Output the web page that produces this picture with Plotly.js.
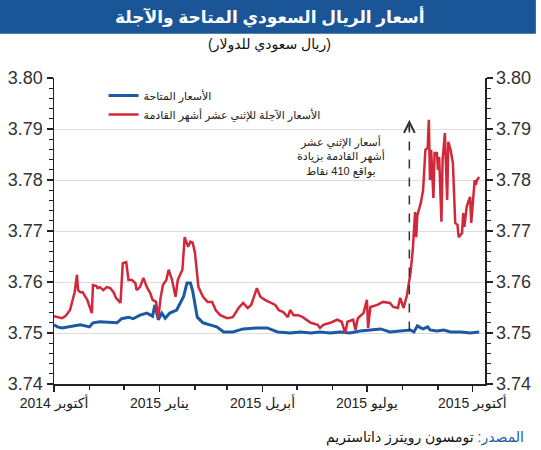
<!DOCTYPE html>
<html>
<head>
<meta charset="utf-8">
<script src="https://cdn.plot.ly/plotly-3.0.1.min.js"></script>
<style>html,body{margin:0;padding:0;background:#fff;}#chart{width:541px;height:450px;}</style>
</head>
<body>
<div id="chart"></div>
<script>
// 12-month forward rate (SAR per USD)
const forwardDates = [
"2014-10-01","2014-10-04","2014-10-08","2014-10-11","2014-10-15","2014-10-18","2014-10-19","2014-10-21","2014-10-22","2014-10-24",
"2014-10-26","2014-10-30","2014-11-01","2014-11-03","2014-11-04","2014-11-07","2014-11-08","2014-11-10","2014-11-13","2014-11-16",
"2014-11-19","2014-11-22","2014-11-24","2014-11-28","2014-11-30","2014-12-03","2014-12-05","2014-12-08","2014-12-11","2014-12-12",
"2014-12-15","2014-12-18","2014-12-21","2014-12-24","2014-12-26","2014-12-29","2014-12-31","2015-01-02","2015-01-04","2015-01-07",
"2015-01-09","2015-01-12","2015-01-15","2015-01-17","2015-01-21","2015-01-23","2015-01-26","2015-01-28","2015-01-30","2015-02-01",
"2015-02-04","2015-02-08","2015-02-12","2015-02-16","2015-02-19","2015-02-23","2015-03-01","2015-03-06","2015-03-11","2015-03-15",
"2015-03-19","2015-03-22","2015-03-27","2015-03-30","2015-04-03","2015-04-08","2015-04-12","2015-04-15","2015-04-19","2015-04-23",
"2015-04-25","2015-04-28","2015-05-02","2015-05-06","2015-05-13","2015-05-19","2015-05-21","2015-05-24","2015-05-30","2015-06-05",
"2015-06-09","2015-06-12","2015-06-14","2015-06-19","2015-06-21","2015-06-23","2015-06-28","2015-07-01","2015-07-02","2015-07-04",
"2015-07-10","2015-07-15","2015-07-21","2015-07-24","2015-07-28","2015-07-30","2015-08-02","2015-08-05","2015-08-08","2015-08-10",
"2015-08-12","2015-08-13","2015-08-14","2015-08-17","2015-08-18","2015-08-19","2015-08-21","2015-08-23","2015-08-24","2015-08-25",
"2015-08-26","2015-08-28","2015-08-29","2015-08-31","2015-09-01","2015-09-02","2015-09-04","2015-09-05","2015-09-07","2015-09-09",
"2015-09-10","2015-09-12","2015-09-14","2015-09-16","2015-09-18","2015-09-19","2015-09-22","2015-09-23","2015-09-24","2015-09-26",
"2015-09-28","2015-09-29","2015-09-30","2015-10-02","2015-10-03","2015-10-04","2015-10-05","2015-10-07"
];
const forwardValues = [
3.7533,3.7531,3.7529,3.7533,3.7545,3.7571,3.7580,3.7614,3.7584,3.7580,
3.7580,3.7565,3.7551,3.7539,3.7594,3.7592,3.7588,3.7590,3.7584,3.7590,
3.7588,3.7580,3.7569,3.7559,3.7637,3.7639,3.7604,3.7604,3.7598,3.7584,
3.7590,3.7608,3.7590,3.7578,3.7565,3.7561,3.7529,3.7569,3.7594,3.7604,
3.7624,3.7604,3.7571,3.7604,3.7624,3.7688,3.7669,3.7679,3.7677,3.7657,
3.7590,3.7571,3.7561,3.7561,3.7545,3.7535,3.7529,3.7531,3.7549,3.7559,
3.7549,3.7555,3.7588,3.7571,3.7565,3.7559,3.7555,3.7545,3.7541,3.7531,
3.7545,3.7535,3.7535,3.7531,3.7520,3.7516,3.7510,3.7516,3.7520,3.7526,
3.7522,3.7500,3.7522,3.7526,3.7506,3.7529,3.7539,3.7565,3.7510,3.7551,
3.7555,3.7561,3.7559,3.7551,3.7549,3.7569,3.7549,3.7575,3.7618,3.7663,
3.7737,3.7688,3.7731,3.7755,3.7771,3.7780,3.7859,3.7863,3.7918,3.7800,
3.7859,3.7765,3.7853,3.7853,3.7820,3.7845,3.7718,3.7839,3.7892,3.7761,
3.7875,3.7859,3.7833,3.7716,3.7712,3.7688,3.7696,3.7735,3.7708,3.7747,
3.7761,3.7767,3.7716,3.7767,3.7800,3.7790,3.7800,3.7806
];
// Spot rate (SAR per USD)
const spotDates = [
"2014-10-01","2014-10-04","2014-10-08","2014-10-15","2014-10-24","2014-11-01","2014-11-04","2014-11-10","2014-11-19","2014-11-25",
"2014-11-29","2014-12-05","2014-12-09","2014-12-15","2014-12-21","2014-12-26","2014-12-28","2014-12-31","2015-01-03","2015-01-06",
"2015-01-10","2015-01-16","2015-01-22","2015-01-25","2015-01-28","2015-01-30","2015-02-03","2015-02-08","2015-02-14","2015-02-20",
"2015-02-26","2015-03-06","2015-03-15","2015-03-27","2015-04-05","2015-04-14","2015-04-25","2015-05-04","2015-05-13","2015-05-21",
"2015-05-30","2015-06-08","2015-06-16","2015-06-25","2015-07-04","2015-07-13","2015-07-21","2015-07-30","2015-08-08","2015-08-11",
"2015-08-14","2015-08-17","2015-08-19","2015-08-23","2015-08-25","2015-08-31","2015-09-06","2015-09-12","2015-09-21","2015-09-29",
"2015-10-07"
];
const spotValues = [
3.7516,3.7512,3.7510,3.7512,3.7516,3.7512,3.7520,3.7522,3.7520,3.7520,
3.7528,3.7531,3.7528,3.7535,3.7539,3.7533,3.7555,3.7526,3.7539,3.7529,
3.7539,3.7545,3.7571,3.7598,3.7598,3.7582,3.7531,3.7520,3.7516,3.7512,
3.7502,3.7502,3.7508,3.7510,3.7510,3.7502,3.7500,3.7502,3.7500,3.7502,
3.7500,3.7502,3.7500,3.7504,3.7506,3.7508,3.7502,3.7504,3.7506,3.7502,
3.7514,3.7510,3.7508,3.7512,3.7506,3.7504,3.7506,3.7502,3.7502,3.7500,
3.7502
];
const tickDates = ["2014-10-01","2015-01-01","2015-04-01","2015-07-01","2015-10-01"];
const tickLabels = ["2014 أكتوبر","2015 يناير","2015 أبريل","2015 يوليو","2015 أكتوبر"];
const seriesNames = ["الأسعار المتاحة","الأسعار الآجلة للإثني عشر أشهر القادمة"];
const titleText = "أسعار الريال السعودي المتاحة والآجلة";
const subtitleText = "(ريال سعودي للدولار)";
const noteText = "أسعار الإثني عشر<br>أشهر القادمة بزيادة<br>بواقع 410 نقاط";
const markerDate = "2015-08-07";

const FONT = "Liberation Sans, Arial, DejaVu Sans, sans-serif";
const RED = "#d2283a";

const traces = [
  {x: spotDates, y: spotValues, name: seriesNames[0], type: "scatter", mode: "lines",
   line: {color: "#1b5aa0", width: 3}, yaxis: "y"},
  {x: forwardDates, y: forwardValues, name: seriesNames[1], type: "scatter", mode: "lines",
   line: {color: RED, width: 2.5}, yaxis: "y"},
  {x: [tickDates[0]], y: [3.75], type: "scatter", mode: "none", showlegend: false, hoverinfo: "skip", yaxis: "y2"}
];

const yBase = {
  range: [3.74, 3.80], dtick: 0.01, tick0: 3.74, tickformat: ".2f",
  ticks: "outside", ticklen: 6, tickwidth: 1.5, tickcolor: "#222",
  showline: true, linecolor: "#222", linewidth: 1.5,
  tickfont: {family: FONT, size: 18, color: "#333"},
  minor: {dtick: 0.002, ticks: "outside", ticklen: 4, tickcolor: "#222", tickwidth: 1.2, showgrid: false},
  zeroline: false, fixedrange: true
};

const layout = {
  width: 541, height: 450,
  margin: {l: 54, r: 56, t: 78, b: 66},
  paper_bgcolor: "#fff", plot_bgcolor: "#fff",
  font: {family: FONT, color: "#222"},
  showlegend: true,
  legend: {x: 0.115, y: 0.99, xanchor: "left", yanchor: "top", bgcolor: "rgba(0,0,0,0)",
           font: {family: FONT, size: 11, color: "#222"}, tracegroupgap: 2, itemwidth: 30},
  xaxis: {
    type: "date", range: ["2014-10-01", "2015-10-12"],
    tickmode: "array", tickvals: tickDates, ticktext: tickLabels,
    ticks: "outside", ticklen: 6, tickwidth: 1.5, tickcolor: "#222",
    showline: true, linecolor: "#222", linewidth: 1.5, showgrid: false,
    tickfont: {family: FONT, size: 14, color: "#222"},
    minor: {dtick: "M1", tick0: "2014-10-01", ticks: "outside", ticklen: 4, tickcolor: "#222", tickwidth: 1.2, showgrid: false},
    fixedrange: true
  },
  yaxis: Object.assign({}, yBase, {side: "left", showgrid: true, gridcolor: "#dcdcdc", gridwidth: 1}),
  yaxis2: Object.assign({}, yBase, {side: "right", overlaying: "y", showgrid: false}),
  shapes: [
    {type: "rect", xref: "paper", yref: "paper", x0: -0.13, x1: 1.118, y0: 1.145, y1: 1.26,
     fillcolor: "#1a5597", line: {width: 0}, layer: "below"},
    {type: "line", xref: "x", yref: "y", x0: markerDate, x1: markerDate, y0: 3.7505, y1: 3.7912,
     line: {color: "#333", width: 1.5, dash: "dash"}}
  ],
  annotations: [
    {xref: "paper", yref: "paper", x: 0.5, y: 1.2, xanchor: "center", yanchor: "middle",
     text: "<b>" + titleText + "</b>", showarrow: false, font: {family: FONT, size: 17, color: "#fff"}},
    {xref: "paper", yref: "paper", x: 0.5, y: 1.108, xanchor: "center", yanchor: "middle",
     text: subtitleText, showarrow: false, font: {family: FONT, size: 14, color: "#111"}},
    {xref: "paper", yref: "paper", x: 0.666, y: 0.745, xanchor: "center", yanchor: "middle",
     text: noteText, showarrow: false, align: "center", font: {family: FONT, size: 11, color: "#222"}},
    {xref: "x", yref: "y", x: markerDate, y: 3.7918, axref: "x", ayref: "y", ax: markerDate, ay: 3.7895,
     text: "", showarrow: true, arrowhead: 5, arrowsize: 1.4, arrowwidth: 1.5, arrowcolor: "#333"},
    {xref: "paper", yref: "paper", x: 1.095, y: -0.175, xanchor: "right", yanchor: "middle",
     text: "<span style='color:#1d5aa6'>المصدر:</span> تومسون رويترز داتاستريم", showarrow: false,
     font: {family: FONT, size: 14, color: "#111"}}
  ]
};

Plotly.newPlot("chart", traces, layout, {displayModeBar: false, staticPlot: true});
</script>
</body>
</html>
